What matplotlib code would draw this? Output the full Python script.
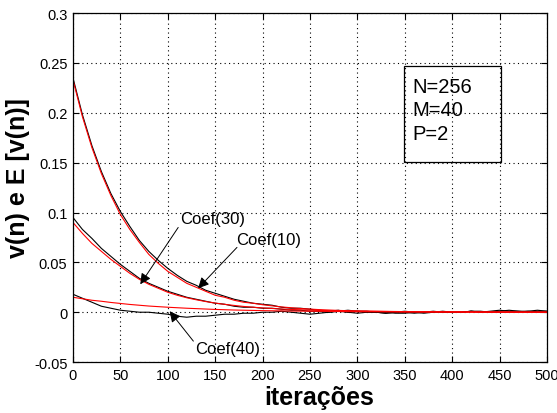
import matplotlib
matplotlib.use("Agg")
import matplotlib.pyplot as plt
from matplotlib.patches import Rectangle

plt.rcParams['font.family'] = ['Liberation Sans', 'DejaVu Sans']

# ---- data ----
iters_black = list(range(0, 501, 10))

coef10_black = [0.235, 0.198, 0.167, 0.141, 0.119, 0.101, 0.086, 0.072, 0.061, 0.052,
                0.044, 0.037, 0.031, 0.027, 0.022, 0.019, 0.016, 0.013, 0.011, 0.009,
                0.008, 0.007, 0.005, 0.004, 0.004, 0.003, 0.002, 0.001, 0.002, 0.000,
                0.001, 0.001, 0.000, -0.001, 0.000, 0.000, -0.001, 0.000, 0.001, 0.000,
                0.000, 0.000, 0.001, 0.000, 0.001, 0.002, 0.001, 0.001, 0.000, 0.001, 0.001]

coef30_black = [0.095, 0.083, 0.074, 0.064, 0.056, 0.048, 0.041, 0.034, 0.029, 0.025,
                0.021, 0.018, 0.015, 0.013, 0.011, 0.009, 0.008, 0.006, 0.005, 0.005,
                0.004, 0.004, 0.003, 0.002, 0.002, 0.001, 0.001, 0.000, 0.001, 0.002,
                0.001, 0.000, 0.000, -0.001, 0.000, 0.001, 0.000, -0.001, 0.000, 0.001,
                0.000, 0.000, 0.001, 0.001, 0.000, 0.001, 0.002, 0.001, 0.001, 0.002, 0.001]

coef40_black = [0.018, 0.014, 0.010, 0.006, 0.004, 0.002, 0.001, 0.000, 0.000, -0.001,
                -0.002, -0.004, -0.005, -0.004, -0.004, -0.003, -0.002, -0.002, -0.001, -0.001,
                0.000, 0.000, 0.001, 0.000, -0.001, -0.002, -0.001, 0.000, 0.001, 0.000,
                -0.001, 0.000, 0.000, 0.000, -0.001, -0.001, 0.000, 0.000, 0.000, 0.000,
                0.000, 0.000, 0.001, 0.000, 0.000, 0.000, 0.000, 0.000, 0.001, 0.000, 0.000]

iters_red = [0, 10, 20, 30, 40, 50, 60, 70, 80, 90, 100, 110, 120, 130, 140, 150, 160,
             170, 180, 190, 200, 220, 240, 260, 280, 300, 350, 400, 450, 500]

coef10_red = [0.233, 0.196, 0.165, 0.139, 0.117, 0.098, 0.083, 0.070, 0.058, 0.049,
              0.041, 0.035, 0.029, 0.025, 0.021, 0.017, 0.015, 0.012, 0.010, 0.009,
              0.0075, 0.0053, 0.0037, 0.0026, 0.0018, 0.0013, 0.0006, 0.0003, 0.0002, 0.0001]

coef30_red = [0.090, 0.079, 0.069, 0.061, 0.053, 0.046, 0.039, 0.033, 0.028, 0.024,
              0.020, 0.017, 0.0145, 0.0125, 0.0107, 0.0092, 0.0079, 0.0068, 0.0058, 0.0050,
              0.0043, 0.0032, 0.0024, 0.0018, 0.0013, 0.0010, 0.0005, 0.0002, 0.0001, 0.0000]

coef40_red = [0.015, 0.0135, 0.012, 0.011, 0.0098, 0.0088, 0.0078, 0.0070, 0.0062, 0.0056,
              0.0050, 0.0045, 0.0040, 0.0036, 0.0032, 0.0028, 0.0025, 0.0022, 0.0020, 0.0018,
              0.0016, 0.0013, 0.0011, 0.0009, 0.0007, 0.0005, 0.0003, 0.0002, 0.0001, 0.0000]

xticks = [0, 50, 100, 150, 200, 250, 300, 350, 400, 450, 500]
yticks = [-0.05, 0, 0.05, 0.1, 0.15, 0.2, 0.25, 0.3]
ytick_labels = ['-0.05', '0', '0.05', '0.1', '0.15', '0.2', '0.25', '0.3']

box_lines = ['N=256', 'M=40', 'P=2']

# annotations: label, label position, arrow tail, arrow tip
annotations = [
    ('Coef(30)', (113, 0.094), (111, 0.085), (71, 0.028)),
    ('Coef(10)', (172, 0.073), (173, 0.065), (132, 0.024)),
    ('Coef(40)', (129, -0.036), (127, -0.029), (102, 0.001)),
]

# ---- figure ----
fig = plt.figure(figsize=(5.57, 4.14), dpi=100)
ax = fig.add_axes([0.131, 0.123, 0.851, 0.843])

for ys in (coef10_black, coef30_black, coef40_black):
    ax.plot(iters_black, ys, color='black', lw=0.8)
for ys in (coef10_red, coef30_red, coef40_red):
    ax.plot(iters_red, ys, color='red', lw=0.8)

ax.set_xlim(0, 500)
ax.set_ylim(-0.05, 0.3)
ax.set_xticks(xticks)
ax.set_yticks(yticks)
ax.set_yticklabels(ytick_labels)
ax.tick_params(direction='in', length=4, width=0.8, labelsize=10.5,
               top=True, right=True, pad=4)
ax.grid(True, color='black', linestyle=(0, (1, 3)), linewidth=0.8)
for s in ax.spines.values():
    s.set_linewidth(0.9)

ax.set_xlabel('iterações', fontsize=18, fontweight='bold')
ax.set_ylabel('v(n) e E [v(n)]', fontsize=18, fontweight='bold')
ax.xaxis.set_label_coords(0.52, -0.065)
ax.yaxis.set_label_coords(-0.09, 0.53)

# parameter box
ax.add_patch(Rectangle((0.698, 0.573), 0.205, 0.275, transform=ax.transAxes,
                       fill=False, edgecolor='black', lw=0.9, zorder=5))
ax.text(0.715, 0.818, '\n'.join(box_lines), transform=ax.transAxes,
        fontsize=14.5, va='top', ha='left', linespacing=1.32, zorder=6)

for label, tpos, tail, tip in annotations:
    ax.annotate('', xy=tip, xytext=tail,
                arrowprops=dict(arrowstyle='-|>', color='black', lw=0.7,
                                mutation_scale=16, shrinkA=0, shrinkB=0))
    ax.text(tpos[0], tpos[1], label, fontsize=12, ha='left', va='center')

fig.savefig('out.png', dpi=100)
